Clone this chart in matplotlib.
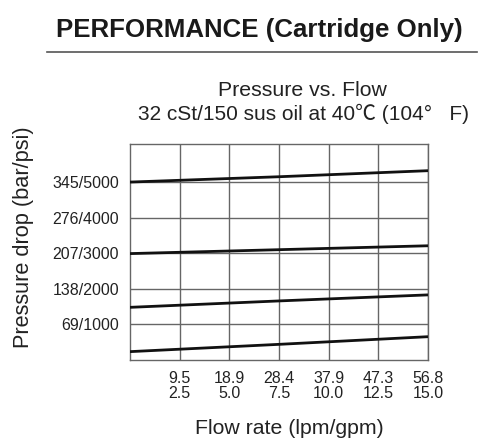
import matplotlib
matplotlib.use("Agg")
import matplotlib.pyplot as plt

plt.rcParams['font.family'] = ['Liberation Sans', 'Noto Sans CJK SC', 'DejaVu Sans']

# Data (x in gpm, y in psi)
flow_gpm = [0, 7.5, 15]
line_a = [5000, 5150, 5320]
line_b = [2990, 3100, 3210]
line_c = [1480, 1660, 1830]
line_d = [235, 440, 655]

x_ticks = [2.5, 5.0, 7.5, 10.0, 12.5, 15.0]
x_lpm = ["9.5", "18.9", "28.4", "37.9", "47.3", "56.8"]
x_gpm = ["2.5", "5.0", "7.5", "10.0", "12.5", "15.0"]
y_ticks = [1000, 2000, 3000, 4000, 5000]
y_labels = ["69/1000", "138/2000", "207/3000", "276/4000", "345/5000"]

W, H = 490, 448
fig = plt.figure(figsize=(4.9, 4.48), dpi=100)
ax = fig.add_axes([130/W, 1-360/H, 298/W, 216/H])

for ys in (line_a, line_b, line_c, line_d):
    ax.plot(flow_gpm, ys, color='#111111', lw=2.0, zorder=3, solid_capstyle='butt')

ax.set_xlim(0, 15)
ax.set_ylim(0, 6070)
ax.set_xticks(x_ticks)
ax.set_xticklabels([f"{a}\n{b}" for a, b in zip(x_lpm, x_gpm)], fontsize=11.5, linespacing=0.95)
ax.set_yticks(y_ticks)
ax.set_yticklabels(y_labels, fontsize=11.5)
ax.tick_params(length=0, pad=8, colors='#222222')
ax.tick_params(axis='x', pad=8)
ax.grid(True, color='#666666', lw=1.0)
for s in ax.spines.values():
    s.set_color('#666666')
    s.set_linewidth(1.0)

fig.text(24/W, 1-237/H, "Pressure drop (bar/psi)", fontsize=15.7, rotation=90,
         ha='center', va='center', color='#222222')
fig.text(289/W, 1-428/H, "Flow rate (lpm/gpm)", fontsize=15.3,
         ha='center', va='center', color='#222222')

fig.text(259/W, 1-37/H, "PERFORMANCE (Cartridge Only)", fontsize=18.6, fontweight='bold',
         ha='center', va='baseline', color='#1a1a1a')
fig.add_artist(plt.Line2D([47/W, 477/W], [1-52/H, 1-52/H], color='#555555', lw=1.2))
fig.text(302/W, 1-90/H, "Pressure vs. Flow", fontsize=15.3, ha='center', va='center', color='#222222')
fig.text(303/W, 1-114/H, "32 cSt/150 sus oil at 40℃ (104°   F)", fontsize=15,
         ha='center', va='center', color='#222222')

fig.savefig("out.png", dpi=100)
